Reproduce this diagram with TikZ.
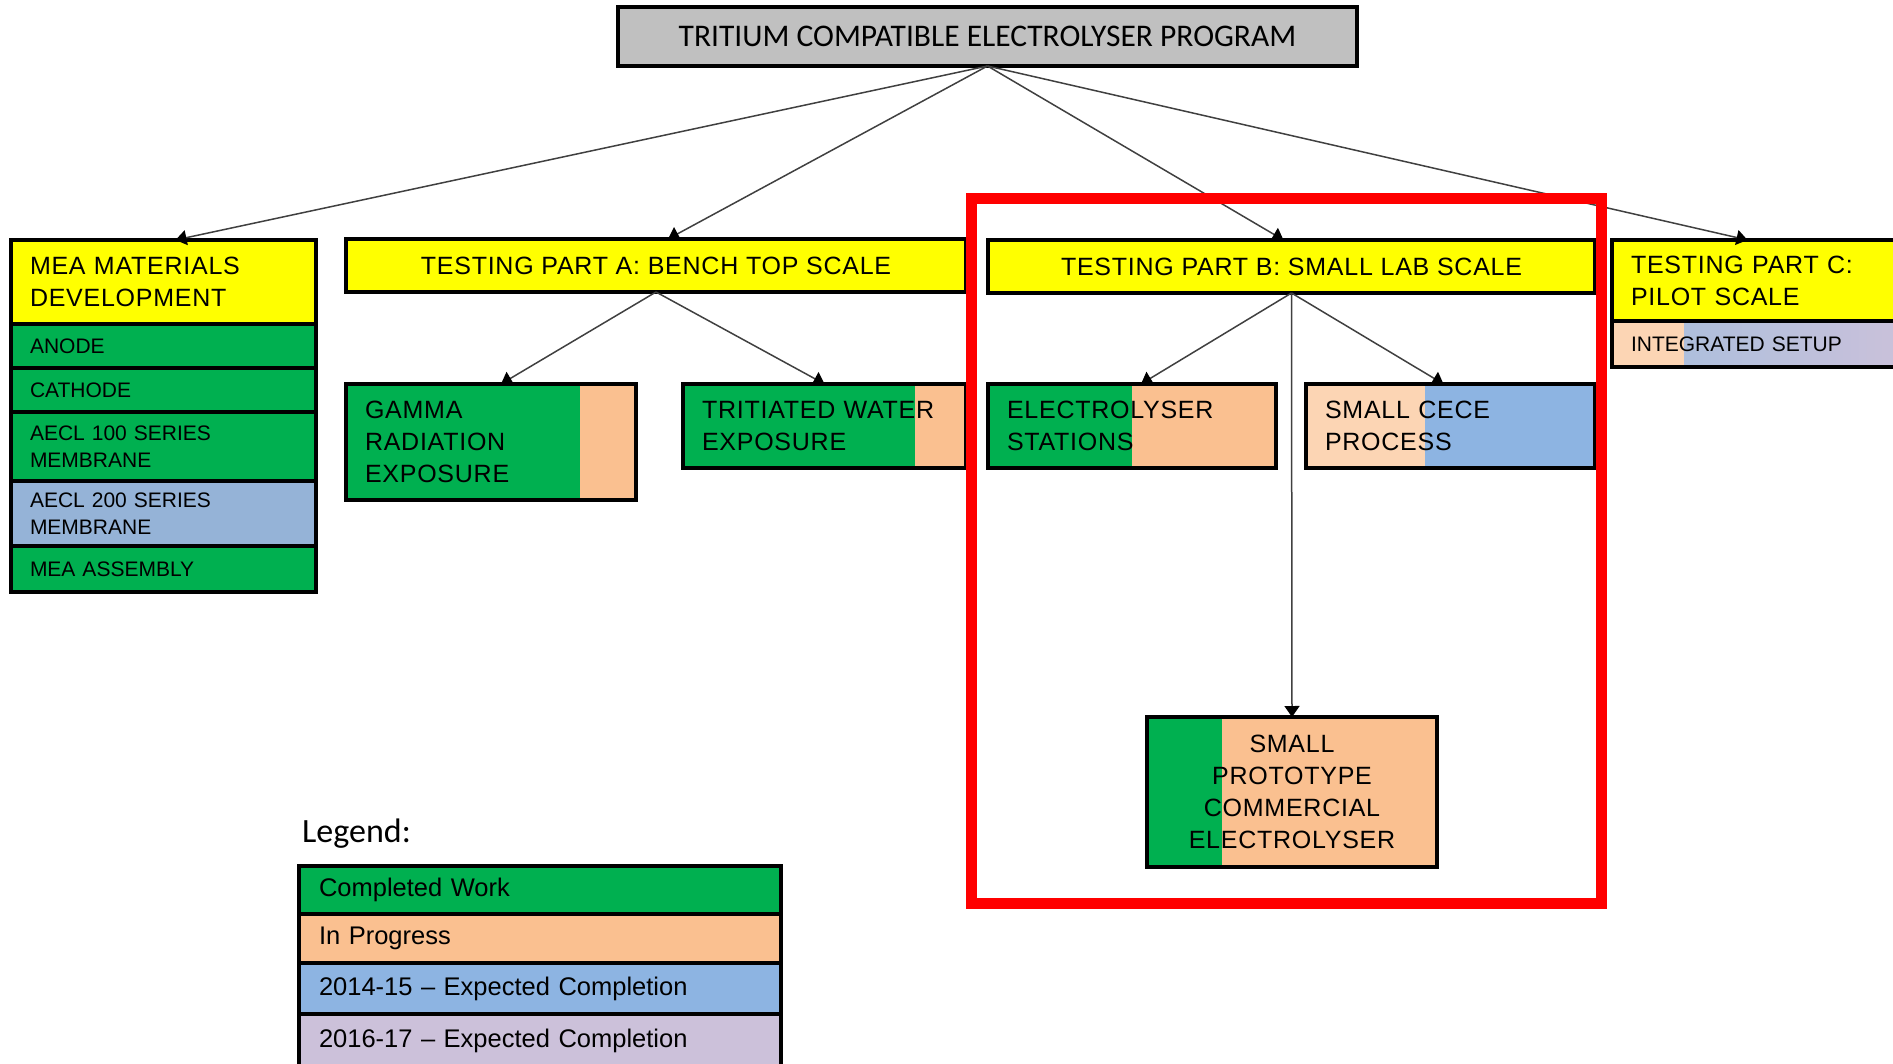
\documentclass[tikz,border=0pt]{standalone}
\usepackage{fontspec}
\setmainfont{Liberation Sans}
\newfontfamily\calibfont{Carlito}
\usetikzlibrary{arrows.meta,positioning}
\definecolor{boxYellow}{HTML}{FFFF00}
\definecolor{doneGreen}{HTML}{00B050}
\definecolor{progPeach}{HTML}{FAC090}
\definecolor{lightPeach}{HTML}{FCD5B4}
\definecolor{expBlue}{HTML}{8DB4E2}
\definecolor{aeclBlue}{HTML}{95B3D7}
\definecolor{futLilac}{HTML}{CCC1DA}
\definecolor{titleGray}{HTML}{C0C0C0}
\definecolor{linkGray}{HTML}{404040}
\definecolor{markRed}{HTML}{FF0000}

\tikzset{
  box/.style={draw=black,line width=4pt,outer sep=0pt,inner xsep=19pt,inner ysep=0pt,
    anchor=north west,align=left,text=black},
  bigtext/.style={font=\fontsize{25}{32}\selectfont\addfontfeature{LetterSpace=3}},
  smalltext/.style={font=\fontsize{21}{26.5}\selectfont},
  row/.style={box,smalltext,minimum width=305pt,text width=267pt},
  legendrow/.style={box,inner xsep=20pt,minimum width=482pt,text width=442pt,
    font=\fontsize{25.5}{30}\selectfont},
  splitfill/.style n args={3}{fill=#1,path picture={%
    \fill[#2] ([xshift=#3]path picture bounding box.north west) rectangle (path picture bounding box.south east);}},
  link/.style={draw=linkGray,line width=1.5pt,-{Triangle[width=15pt,length=11pt,black]}}
}

\begin{document}
\begin{tikzpicture}[x=1pt,y=-1pt]
  \useasboundingbox (0,0) rectangle (1893,1064);
  \clip (0,0) rectangle (1893,1064);

  % top of the tree
  \node[box,fill=titleGray,minimum width=739pt,minimum height=59pt,align=center,
    font=\calibfont\fontsize{31.5}{36}\selectfont] (prog) at (618,7) {TRITIUM COMPATIBLE ELECTROLYSER PROGRAM};

  % MEA column
  \node[box,bigtext,fill=boxYellow,minimum width=305pt,minimum height=84pt,text width=267pt] (mea) at (11,240) {MEA MATERIALS\\DEVELOPMENT};
  \node[row,fill=doneGreen,minimum height=44pt,below=0pt of mea] (anode) {ANODE};
  \node[row,fill=doneGreen,minimum height=44pt,below=0pt of anode] (cathode) {CATHODE};
  \node[row,fill=doneGreen,minimum height=69pt,below=0pt of cathode] (aecla) {AECL 100 SERIES\\MEMBRANE};
  \node[row,fill=aeclBlue,minimum height=65pt,below=0pt of aecla] (aeclb) {AECL 200 SERIES\\MEMBRANE};
  \node[row,fill=doneGreen,minimum height=46pt,below=0pt of aeclb] (meaasm) {MEA ASSEMBLY};

  % testing parts
  \node[box,bigtext,fill=boxYellow,minimum width=620pt,minimum height=53pt,align=center] (parta) at (346,239) {TESTING PART A: BENCH TOP SCALE};
  \node[box,bigtext,fill=boxYellow,minimum width=607pt,minimum height=53pt,align=center] (partb) at (988,240) {TESTING PART B: SMALL LAB SCALE};
  \node[box,bigtext,fill=boxYellow,minimum width=305pt,minimum height=81pt,text width=267pt] (partc) at (1612,240) {TESTING PART C:\\PILOT SCALE};
  \node[row,fill=futLilac,minimum height=46pt,below=0pt of partc,path picture={%
    \shade[left color=aeclBlue!85!white,right color=futLilac] ([xshift=72pt]path picture bounding box.north west) rectangle (path picture bounding box.south east);
    \fill[lightPeach] (path picture bounding box.north west) rectangle ([xshift=72pt]path picture bounding box.south west);}] (integ) {INTEGRATED SETUP};

  % part A children
  \node[box,bigtext,splitfill={doneGreen}{progPeach}{234pt},minimum width=290pt,minimum height=116pt,text width=252pt] (gamma) at (346,384) {GAMMA\\RADIATION\\EXPOSURE};
  \node[box,bigtext,splitfill={doneGreen}{progPeach}{232pt},minimum width=283pt,minimum height=84pt,text width=245pt] (trit) at (683,384) {TRITIATED WATER\\EXPOSURE};

  % part B children
  \node[box,bigtext,splitfill={doneGreen}{progPeach}{144pt},minimum width=288pt,minimum height=84pt,text width=250pt] (elec) at (988,384) {ELECTROLYSER\\STATIONS};
  \node[box,bigtext,splitfill={lightPeach}{expBlue}{119pt},minimum width=289pt,minimum height=84pt,text width=251pt] (cece) at (1306,384) {SMALL CECE\\PROCESS};
  \node[box,bigtext,splitfill={doneGreen}{progPeach}{75pt},minimum width=290pt,minimum height=150pt,text width=252pt,align=center] (proto) at (1147,717) {SMALL\\PROTOTYPE\\COMMERCIAL\\ELECTROLYSER};

  \draw[link] (prog.south) -- ([xshift=12pt]mea.north);
  \draw[link] (prog.south) -- ([xshift=12pt]parta.north);
  \draw[link] (prog.south) -- ([xshift=-8pt]partb.north);
  \draw[link] (prog.south) -- ([xshift=-17pt]partc.north);
  \draw[link] (parta.south) -- ([xshift=10pt]gamma.north);
  \draw[link] (parta.south) -- (trit.north);
  \draw[link] (partb.south) -- ([xshift=9pt]elec.north);
  \draw[link] (partb.south) -- ([xshift=-7pt]cece.north);
  \draw[link] (partb.south) -- (proto.north);

  % highlight round part B
  \draw[markRed,line width=11pt] (971,199) rectangle (1601,903);

  % legend
  \node[anchor=west,inner sep=0pt,font=\calibfont\fontsize{34}{40}\selectfont] (legendtitle) at (302,834) {Legend:};
  \node[legendrow,fill=doneGreen,minimum height=48pt] (lgdone) at (299,866) {Completed Work};
  \node[legendrow,fill=progPeach,minimum height=49pt,below=0pt of lgdone] (lgprog) {In Progress};
  \node[legendrow,fill=expBlue,minimum height=51pt,below=0pt of lgprog] (lgfive) {2014-15 -- Expected Completion};
  \node[legendrow,fill=futLilac,minimum height=54pt,below=0pt of lgfive] (lgseven) {2016-17 -- Expected Completion};
\end{tikzpicture}
\end{document}
